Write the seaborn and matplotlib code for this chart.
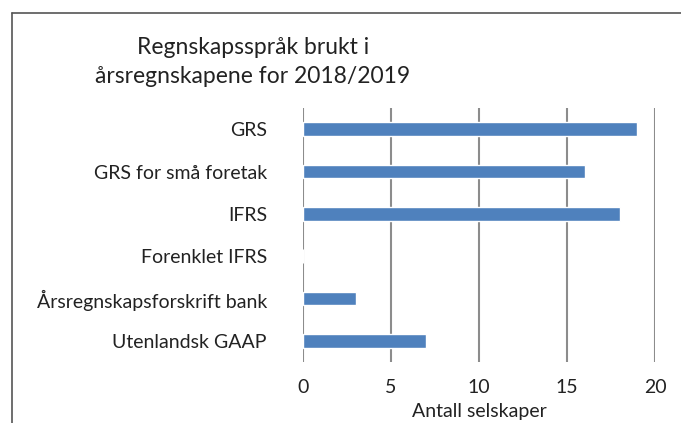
# Regnskapsspråk brukt i årsregnskapene 2018/2019 - horisontalt søylediagram
import matplotlib
matplotlib.use("Agg")
import matplotlib.pyplot as plt
from matplotlib.lines import Line2D
import seaborn as sns
import pandas as pd

kategorier = ["GRS", "GRS for små foretak", "IFRS", "Forenklet IFRS",
              "Årsregnskapsforskrift bank", "Utenlandsk GAAP"]
antall = [19, 16, 18, 0, 3, 7]
x_ticks = [0, 5, 10, 15, 20]

sns.set_theme(style="white")
plt.rcParams['font.family'] = ['Lato', 'DejaVu Sans']

W, H = 681, 423
fig = plt.figure(figsize=(W / 100, H / 100), dpi=100)
ax = fig.add_axes([303 / W, 1 - 362 / H, (655 - 303) / W, (362 - 108) / H])

df = pd.DataFrame({"kategori": kategorier, "antall": antall})
sns.barplot(data=df, x="antall", y="kategori", orient="h", color="#4f81bd",
            saturation=1, width=0.33, ax=ax, zorder=3)

ax.set_xlim(0, 20)
ax.set_xticks(x_ticks)
ax.xaxis.grid(True, color="#8c8c8c", linewidth=1.5, zorder=0)
ax.set_axisbelow(True)
for s in ax.spines.values():
    s.set_visible(False)
ax.tick_params(axis="both", length=0, labelsize=14, colors="#222222")
ax.tick_params(axis="x", pad=12)
ax.tick_params(axis="y", pad=26)
ax.set_ylabel("")
ax.set_xlabel("Antall selskaper", fontsize=14, color="#222222", labelpad=5)

fig.text(253 / W, 1 - 62 / H, "Regnskapsspråk brukt i\nårsregnskapene for 2018/2019",
         ha="center", va="center", fontsize=16.5, color="#222222", linespacing=1.45)

# ramme rundt diagrammet (venstre og topp synlig)
fig.add_artist(Line2D([11.5 / W, 11.5 / W], [0, 1 - 13 / H], transform=fig.transFigure,
                      color="#555555", linewidth=1.2))
fig.add_artist(Line2D([11.5 / W, 1], [1 - 13 / H, 1 - 13 / H], transform=fig.transFigure,
                      color="#555555", linewidth=1.2))

fig.savefig("out.png", dpi=100)
